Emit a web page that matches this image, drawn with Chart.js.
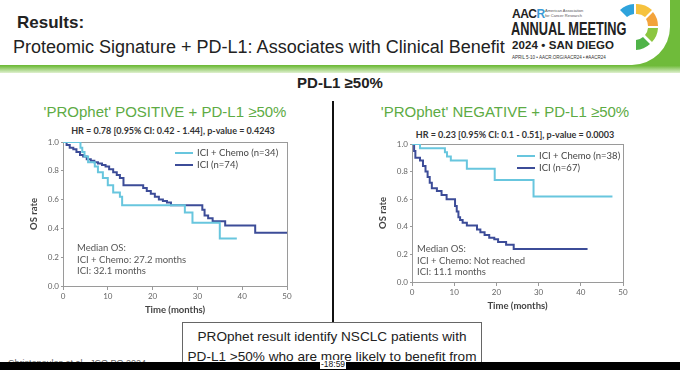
<!DOCTYPE html>
<html>
<head>
<meta charset="utf-8">
<script src="https://cdn.jsdelivr.net/npm/chart.js@4.4.1/dist/chart.umd.min.js"></script>
<style>
  html, body { margin: 0; padding: 0; background: #fff; }
  body { width: 680px; height: 370px; position: relative; overflow: hidden; font-family: "Liberation Sans", Arial, sans-serif; }
  .abs { position: absolute; white-space: nowrap; }
  .box { position: absolute; }
</style>
</head>
<body>

<!-- header band -->
<div class="box" style="left:0;top:0;width:680px;height:73px;background:linear-gradient(to bottom, #6fbb3a 0%, #6fbb3a 90%, #dff0cf 100%);"></div>
<div class="box" style="left:0;top:0;width:670px;height:65px;background:#fff;border-bottom-right-radius:38px;"></div>

<div class="abs" style="left:17px;top:13px;font-size:17px;font-weight:bold;color:#222;">Results:</div>
<div class="abs" style="left:13px;top:37px;font-size:18px;color:#222;">Proteomic Signature + PD-L1: Associates with Clinical Benefit</div>

<!-- logo -->
<div class="abs" style="left:512px;top:7px;font-size:12px;font-weight:bold;color:#222;letter-spacing:-0.5px;">AAC<span style="color:#3a9ad6">R</span></div>
<div class="abs" style="left:545px;top:8px;font-size:4px;line-height:5px;color:#555;">American Association<br>for Cancer Research</div>
<div class="abs" style="left:511px;top:19px;font-size:18px;font-weight:bold;color:#222;transform:scaleX(0.71);transform-origin:left;">ANNUAL MEETING</div>
<div class="abs" style="left:512px;top:39px;font-size:11.5px;font-weight:bold;color:#222;letter-spacing:0.1px;">2024 • SAN DIEGO</div>
<div class="abs" style="left:512px;top:55px;font-size:4.5px;color:#333;">APRIL 5-10 • AACR.ORG/AACR24 • #AACR24</div>
<svg class="box" style="left:606px;top:0;" width="64" height="62">
  <path d="M28 4 A22 22 0 0 0 14 10 L21 17 A12 12 0 0 1 28 14 Z" fill="#2ea3dc"/>
  <path d="M30 4 A22 22 0 0 1 46 10 L39 17 A12 12 0 0 0 30 14 Z" fill="#f6c23e"/>
  <path d="M47 12 A22 22 0 0 1 52 26 L42 26 A12 12 0 0 0 40 19 Z" fill="#f3a33b"/>
  <path d="M52 28 A22 22 0 0 1 46 42 L39 35 A12 12 0 0 0 42 28 Z" fill="#8cc640"/>
  <path d="M44 44 A22 22 0 0 1 30 50 L30 40 A12 12 0 0 0 37 37 Z" fill="#4fb348"/>
</svg>

<div class="abs" style="left:0;width:680px;text-align:center;top:74px;font-size:15px;font-weight:bold;color:#222;">PD-L1 ≥50%</div>
<div class="abs" style="left:15px;width:300px;text-align:center;top:103px;font-size:15px;color:#5dab44;">'PROphet' POSITIVE + PD-L1 ≥50%</div>
<div class="abs" style="left:355px;width:300px;text-align:center;top:103px;font-size:15px;color:#5dab44;">'PROphet' NEGATIVE + PD-L1 ≥50%</div>

<div class="abs" style="left:23px;width:300px;text-align:center;top:125px;font-size:9px;font-weight:bold;color:#333;font-family:Lato,sans-serif;">HR = 0.78 [0.95% CI: 0.42 - 1.44], p-value = 0.4243</div>
<div class="abs" style="left:365px;width:300px;text-align:center;top:129px;font-size:9px;font-weight:bold;color:#333;font-family:Lato,sans-serif;">HR = 0.23 [0.95% CI: 0.1 - 0.51], p-value = 0.0003</div>

<!-- divider -->
<div class="box" style="left:332px;top:101px;width:2px;height:222px;background:#111;"></div>

<div class="box" style="left:0;top:120px;width:335px;height:200px;"><canvas id="posChart"></canvas></div>
<div class="box" style="left:340px;top:120px;width:340px;height:200px;"><canvas id="negChart"></canvas></div>

<!-- bottom box -->
<div class="box" style="left:182px;top:322px;width:298px;height:60px;border:1px solid #666;background:#fff;"></div>
<div class="abs" style="left:182px;width:300px;text-align:center;top:327px;font-size:13.6px;line-height:19.5px;color:#222;">PROphet result identify NSCLC patients with<br>PD-L1 &gt;50% who are more likely to benefit from<br>chemo-ICI (compared to ICI)</div>
<div class="abs" style="left:8px;top:358px;font-size:9px;color:#666;">Christopoulos et al., JCO PO 2024</div>
<div class="box" style="left:0;top:362px;width:680px;height:8px;background:#000;"></div>
<div class="abs" style="left:320px;top:360px;font-size:8.5px;line-height:9px;color:#111;background:#fff;padding:0 1px;">-18:59</div>

<script>
// PROphet POSITIVE + PD-L1 >=50%
const posTimeChemo = [0, 3.9, 4.3, 4.8, 5.6, 7.1, 7.8, 8.9, 10.0, 11.2, 12.7, 13.2, 27.2, 28.9, 35.0, 38.8];
const posOsChemo   = [1.0, 0.96, 0.93, 0.90, 0.86, 0.83, 0.79, 0.75, 0.70, 0.65, 0.62, 0.56, 0.51, 0.44, 0.33, 0.33];
const posTimeIci = [0, 0.8, 1.5, 2.3, 3.0, 3.8, 4.5, 5.3, 6.2, 7.0, 7.8, 8.7, 9.5, 10.3, 11.2, 12.0, 12.7, 13.5, 17.9, 18.7, 19.6, 20.5, 21.4, 22.3, 23.2, 24.1, 31.1, 31.6, 32.4, 33.4, 36.2, 42.9, 50];
const posOsIci   = [1.0, 0.98, 0.96, 0.95, 0.93, 0.91, 0.90, 0.88, 0.87, 0.86, 0.85, 0.84, 0.83, 0.81, 0.79, 0.77, 0.75, 0.70, 0.68, 0.66, 0.64, 0.62, 0.60, 0.59, 0.58, 0.56, 0.53, 0.49, 0.47, 0.45, 0.42, 0.37, 0.37];

// PROphet NEGATIVE + PD-L1 >=50%
const negTimeChemo = [0, 1.9, 7.8, 8.3, 9.2, 13.0, 19.6, 28.8, 47.5];
const negOsChemo   = [1.0, 0.97, 0.94, 0.91, 0.88, 0.82, 0.74, 0.62, 0.62];
const negTimeIci = [0, 0.5, 0.8, 1.9, 2.6, 3.2, 3.7, 4.2, 4.7, 5.9, 7.0, 8.2, 10.2, 10.6, 11.0, 11.4, 12.0, 13.0, 15.4, 16.2, 17.2, 18.3, 19.5, 20.4, 22.3, 24.1, 41.6];
const negOsIci   = [1.0, 0.95, 0.90, 0.88, 0.84, 0.80, 0.76, 0.72, 0.68, 0.66, 0.63, 0.60, 0.55, 0.51, 0.47, 0.45, 0.43, 0.41, 0.38, 0.36, 0.34, 0.32, 0.31, 0.29, 0.27, 0.24, 0.24];

const xTicks = [0, 10, 20, 30, 40, 50];
const yTicks = [0.0, 0.2, 0.4, 0.6, 0.8, 1.0];

const lightBlue = '#68c6de';
const darkBlue = '#3c4c98';
const chartFont = 'Lato, "Open Sans", sans-serif';

function toPoints(t, s) {
  return t.map((x, i) => ({ x: x, y: s[i] }));
}

// frame, in-plot legend and median OS note
const kmDecor = {
  id: 'kmDecor',
  beforeDatasetsDraw(chart) {
    const a = chart.chartArea, ctx = chart.ctx;
    ctx.save();
    ctx.strokeStyle = '#9a9a9a';
    ctx.lineWidth = 1;
    ctx.strokeRect(a.left + 0.5, a.top + 0.5, a.right - a.left, a.bottom - a.top);
    ctx.restore();
  },
  afterDatasetsDraw(chart, args, opts) {
    const a = chart.chartArea, ctx = chart.ctx;
    ctx.save();
    ctx.font = '9.5px ' + chartFont;
    ctx.textBaseline = 'middle';
    chart.data.datasets.forEach((ds, i) => {
      const y = a.top + opts.legendY + i * 12;
      const x = a.left + opts.legendX;
      ctx.strokeStyle = ds.borderColor;
      ctx.lineWidth = 2;
      ctx.beginPath();
      ctx.moveTo(x, y);
      ctx.lineTo(x + 18, y);
      ctx.stroke();
      ctx.fillStyle = '#444';
      ctx.fillText(ds.label, x + 22, y);
    });
    ctx.font = '9.5px ' + chartFont;
    ctx.fillStyle = '#555';
    opts.median.forEach((line, i) => {
      ctx.fillText(line, a.left + opts.medianX, a.top + opts.medianY + i * 11.5);
    });
    ctx.restore();
  }
};

function makeChart(id, chemoT, chemoS, iciT, iciS, labels, pad, decor) {
  return new Chart(document.getElementById(id), {
    type: 'line',
    data: {
      datasets: [{
        label: labels[0],
        data: toPoints(chemoT, chemoS),
        borderColor: lightBlue,
        borderWidth: 2,
        pointRadius: 0,
        stepped: true,
        fill: false
      }, {
        label: labels[1],
        data: toPoints(iciT, iciS),
        borderColor: darkBlue,
        borderWidth: 2,
        pointRadius: 0,
        stepped: true,
        fill: false
      }]
    },
    options: {
      responsive: true,
      maintainAspectRatio: false,
      animation: false,
      layout: { padding: pad },
      plugins: {
        legend: { display: false },
        tooltip: { enabled: false },
        kmDecor: decor
      },
      scales: {
        x: {
          type: 'linear',
          min: 0, max: 50,
          afterFit(s) { s.height = 30; },
          afterBuildTicks(s) { s.ticks = xTicks.map(v => ({ value: v })); },
          ticks: { font: { family: chartFont, size: 8 }, color: '#666', padding: 2, maxRotation: 0 },
          grid: { drawOnChartArea: false, tickLength: 4, color: '#9a9a9a' },
          border: { color: '#9a9a9a' },
          title: { display: true, text: 'Time (months)', font: { family: chartFont, size: 9.5, weight: 'bold' }, color: '#444', padding: { top: 2, bottom: 0 } }
        },
        y: {
          min: 0, max: 1,
          afterFit(s) { s.width = 43; },
          afterBuildTicks(s) { s.ticks = yTicks.map(v => ({ value: v })); },
          ticks: { font: { family: chartFont, size: 8 }, color: '#666', padding: 2, callback: v => v.toFixed(1) },
          grid: { drawOnChartArea: false, tickLength: 2, color: '#9a9a9a' },
          border: { color: '#9a9a9a' },
          title: { display: true, text: 'OS rate', font: { family: chartFont, size: 9.5, weight: 'bold' }, color: '#444', padding: { top: 8, bottom: 0 } }
        }
      }
    },
    plugins: [kmDecor]
  });
}

makeChart('posChart', posTimeChemo, posOsChemo, posTimeIci, posOsIci,
  ['ICI + Chemo (n=34)', 'ICI (n=74)'],
  { left: 20, right: 48, top: 22, bottom: 4 },
  { legendX: 112, legendY: 11, medianX: 14, medianY: 106, median: ['Median OS:', 'ICI + Chemo: 27.2 months', 'ICI: 32.1 months'] });

makeChart('negChart', negTimeChemo, negOsChemo, negTimeIci, negOsIci,
  ['ICI + Chemo (n=38)', 'ICI (n=67)'],
  { left: 29, right: 57, top: 24, bottom: 8 },
  { legendX: 105, legendY: 12, medianX: 5, medianY: 105, median: ['Median OS:', 'ICI + Chemo: Not reached', 'ICI: 11.1 months'] });
</script>
</body>
</html>
